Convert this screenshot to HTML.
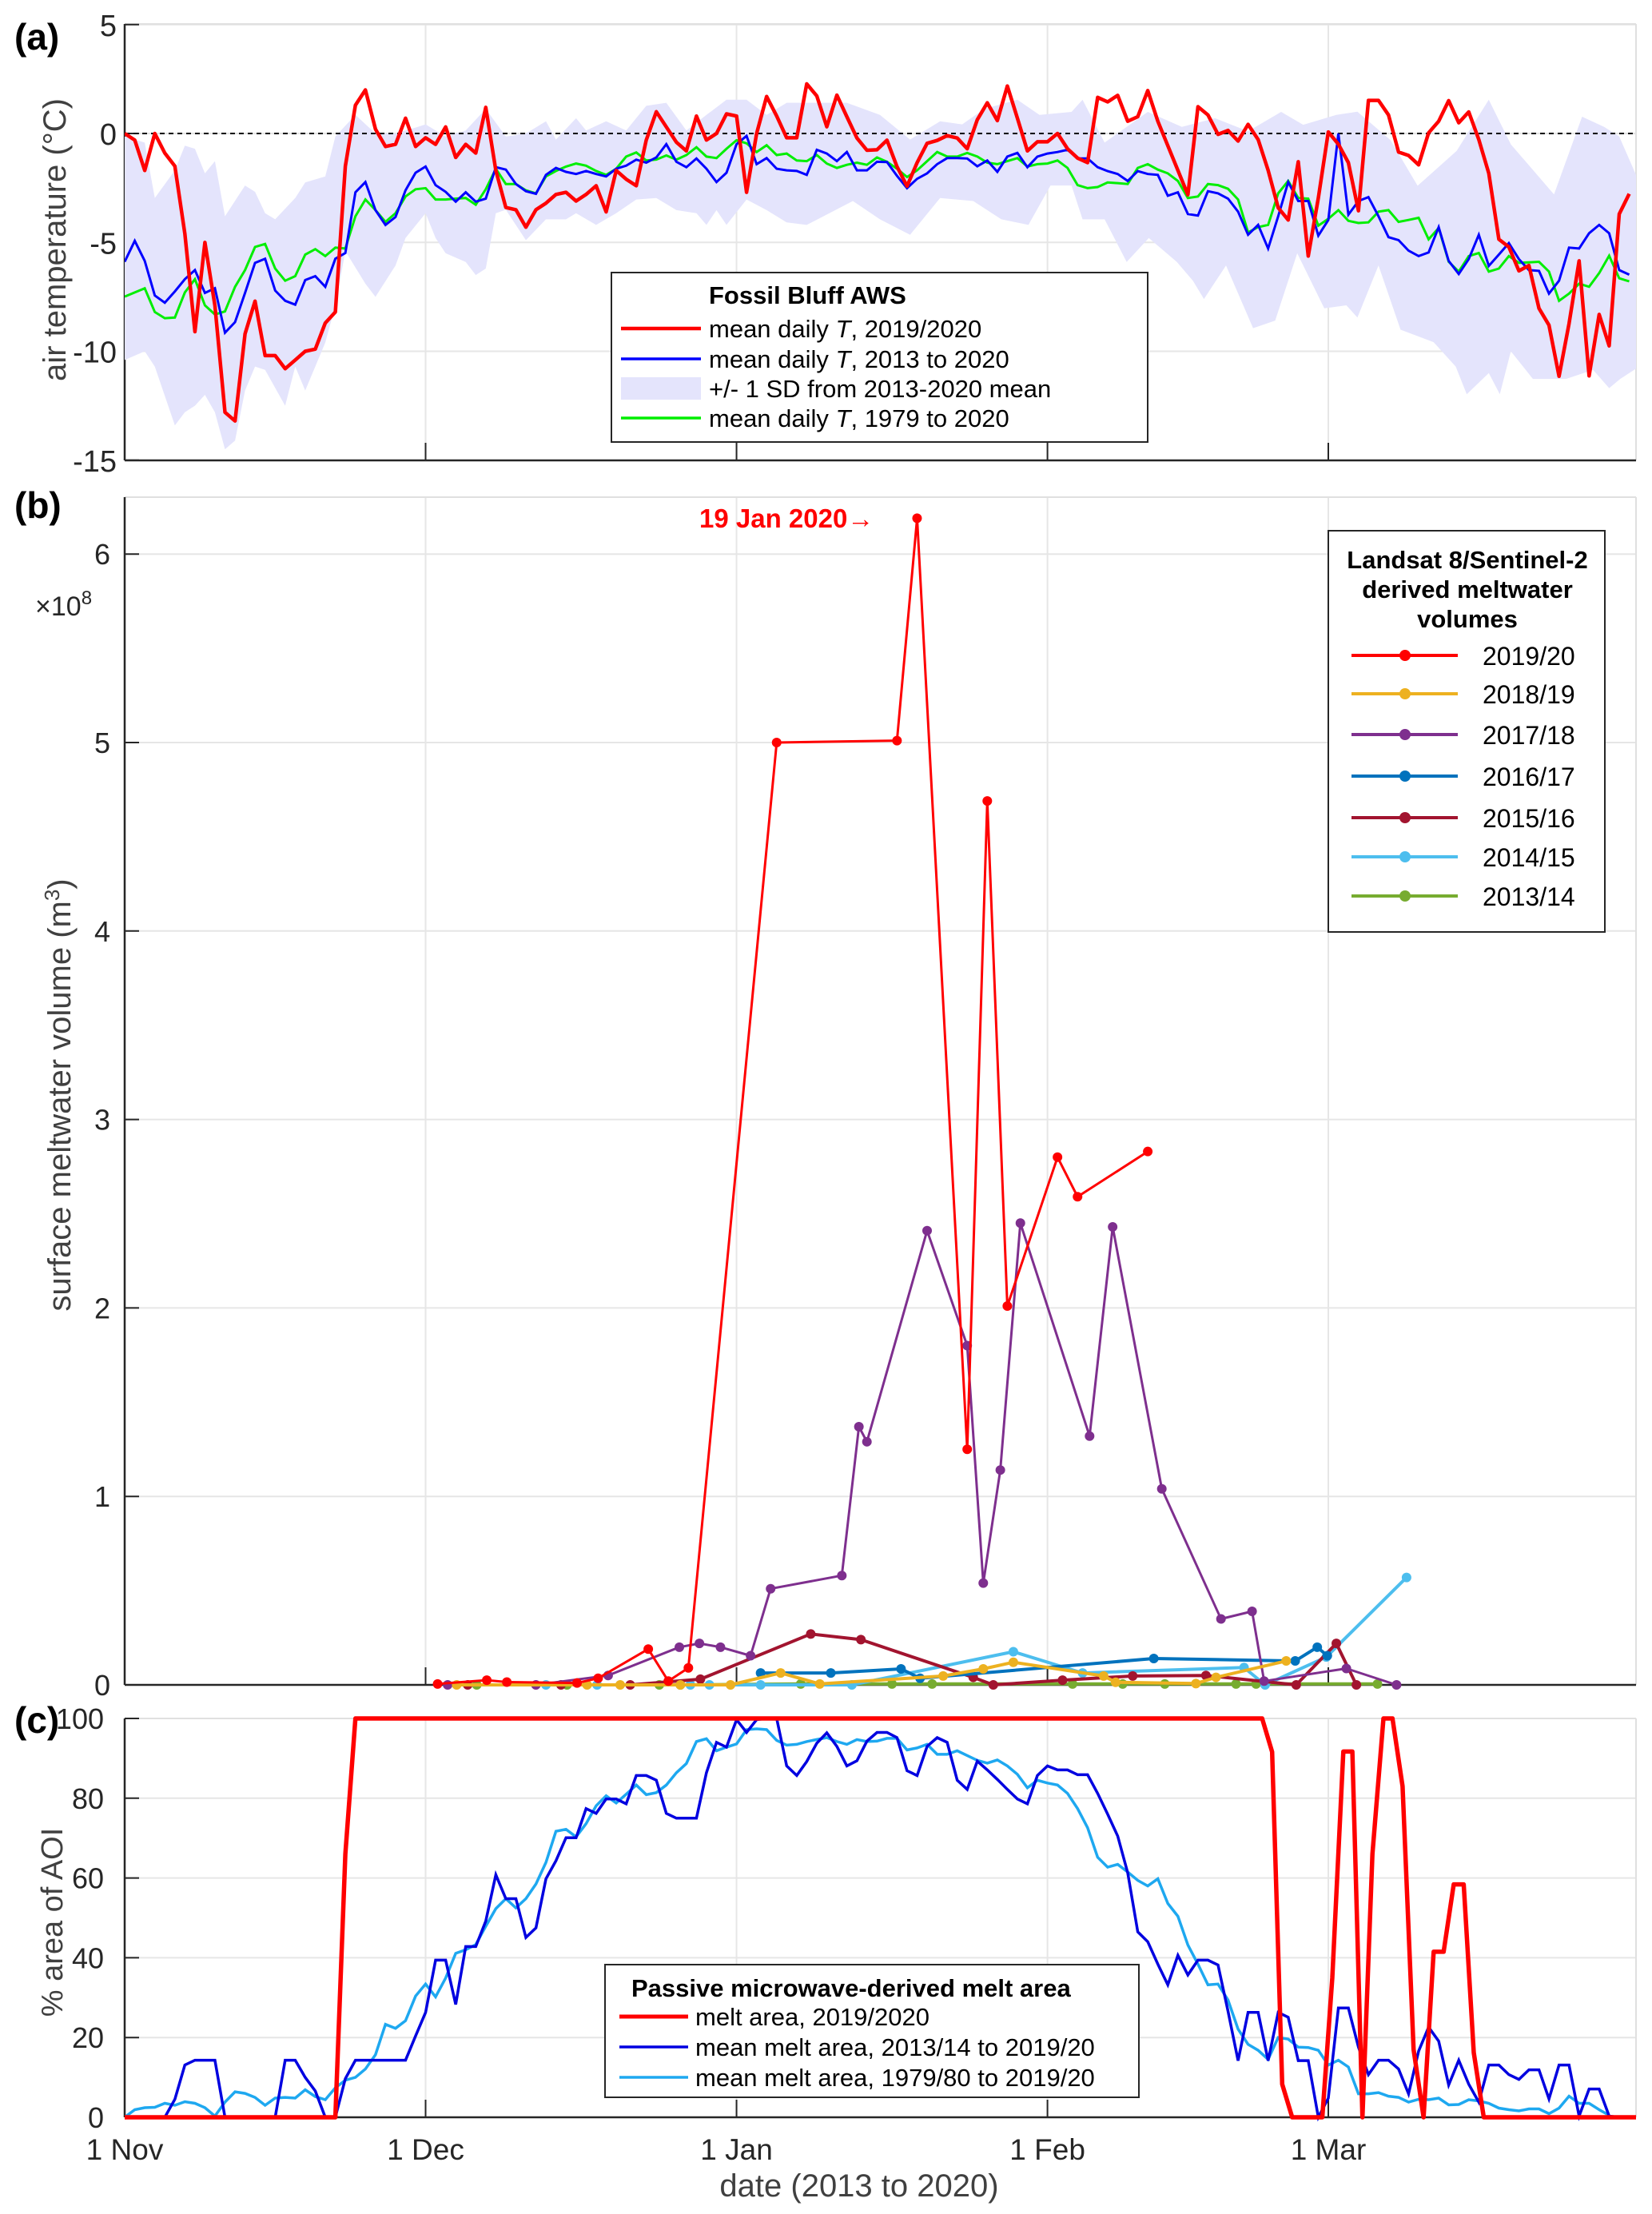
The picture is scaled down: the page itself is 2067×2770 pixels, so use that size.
<!DOCTYPE html>
<html><head><meta charset="utf-8">
<style>
html,body{margin:0;padding:0;background:#fff;}
svg{display:block;font-family:"Liberation Sans",Arial,sans-serif;}
</style></head>
<body>
<svg id="fig" width="2067" height="2770" viewBox="0 0 2067 2770" xmlns="http://www.w3.org/2000/svg">
<rect width="2067" height="2770" fill="#fff"/>
<defs>
<clipPath id="clipA"><rect x="156" y="30" width="1891" height="546"/></clipPath>
<clipPath id="clipB"><rect x="156" y="600" width="1891" height="1520"/></clipPath>
<clipPath id="clipC"><rect x="156" y="2140" width="1891" height="515"/></clipPath>
</defs>
<g id="gridA"></g>
<g id="gridB"></g>
<g id="gridC"></g>
<g id="axes"></g>
<g id="plotA" clip-path="url(#clipA)"></g>
<g id="plotB" clip-path="url(#clipB)"></g>
<g id="plotC" clip-path="url(#clipC)"></g>

<!-- panel labels -->
<text x="18" y="62" font-size="46" font-weight="bold" fill="#000">(a)</text>
<text x="18" y="648" font-size="46" font-weight="bold" fill="#000">(b)</text>
<text x="18" y="2168" font-size="46" font-weight="bold" fill="#000">(c)</text>

<text transform="translate(82,300) rotate(-90)" text-anchor="middle" font-size="40" fill="#404040">air temperature (°C)</text>
<text transform="translate(88,1370) rotate(-90)" text-anchor="middle" font-size="40" fill="#404040">surface meltwater volume (m<tspan font-size="26" dy="-14">3</tspan><tspan dy="14">)</tspan></text>
<text x="44" y="770" font-size="34" fill="#262626">×10<tspan font-size="24" dy="-14">8</tspan></text>
<text transform="translate(78,2405) rotate(-90)" text-anchor="middle" font-size="38" fill="#404040">% area of AOI</text>
<text x="1075" y="2748" text-anchor="middle" font-size="40" fill="#404040">date (2013 to 2020)</text>

<text x="875" y="660" font-size="33" font-weight="bold" fill="#ff0000">19 Jan 2020→</text>

<!-- legend a -->
<g>
<rect x="765" y="341" width="671" height="212" fill="#fff" stroke="#262626" stroke-width="2"/>
<text x="887" y="380" font-size="31" font-weight="bold" fill="#000">Fossil Bluff AWS</text>
<line x1="777" y1="411" x2="877" y2="411" stroke="#ff0000" stroke-width="4.5"/>
<text x="887" y="422" font-size="31" fill="#000">mean daily <tspan font-style="italic">T</tspan>, 2019/2020</text>
<line x1="777" y1="449" x2="877" y2="449" stroke="#0000ff" stroke-width="3.5"/>
<text x="887" y="460" font-size="31" fill="#000">mean daily <tspan font-style="italic">T</tspan>, 2013 to 2020</text>
<rect x="777" y="472" width="100" height="28" fill="#e4e4fc"/>
<text x="887" y="497" font-size="31" fill="#000">+/- 1 SD from 2013-2020 mean</text>
<line x1="777" y1="523" x2="877" y2="523" stroke="#00ee00" stroke-width="3.5"/>
<text x="887" y="534" font-size="31" fill="#000">mean daily <tspan font-style="italic">T</tspan>, 1979 to 2020</text>
</g>

<!-- legend b -->
<g id="legB">
<rect x="1662" y="664" width="346" height="502" fill="#fff" stroke="#262626" stroke-width="2"/>
<text x="1836" y="711" text-anchor="middle" font-size="31" font-weight="bold" fill="#000">Landsat 8/Sentinel-2</text>
<text x="1836" y="748" text-anchor="middle" font-size="31" font-weight="bold" fill="#000">derived meltwater</text>
<text x="1836" y="785" text-anchor="middle" font-size="31" font-weight="bold" fill="#000">volumes</text>
</g>

<!-- legend c -->
<g>
<rect x="757" y="2458" width="668" height="166" fill="#fff" stroke="#262626" stroke-width="2"/>
<text x="790" y="2498" font-size="31" font-weight="bold" fill="#000">Passive microwave-derived melt area</text>
<line x1="775" y1="2523" x2="861" y2="2523" stroke="#ff0000" stroke-width="5"/>
<text x="870" y="2534" font-size="31" fill="#000">melt area, 2019/2020</text>
<line x1="775" y1="2561" x2="861" y2="2561" stroke="#0000e0" stroke-width="3.5"/>
<text x="870" y="2572" font-size="31" fill="#000">mean melt area, 2013/14 to 2019/20</text>
<line x1="775" y1="2599" x2="861" y2="2599" stroke="#1ea8f0" stroke-width="3.5"/>
<text x="870" y="2610" font-size="31" fill="#000">mean melt area, 1979/80 to 2019/20</text>
</g>
</svg>

<script>
// ---------- Panel (a) data: daily mean air temperature (°C), index = days since 1 Nov ----------
const tempRed2019 = [0,-0.3,-1.7,0,-0.9,-1.5,-4.6,-9.1,-5,-7.9,-12.8,-13.2,-9.2,-7.7,-10.2,-10.2,-10.8,-10.4,-10,-9.9,-8.7,-8.2,-1.5,1.3,2,0.2,-0.6,-0.5,0.7,-0.6,-0.2,-0.5,0.3,-1.1,-0.5,-0.9,1.2,-1.7,-3.4,-3.5,-4.3,-3.5,-3.2,-2.8,-2.7,-3.1,-2.8,-2.4,-3.6,-1.7,-2.1,-2.4,-0.3,1,0.3,-0.4,-0.8,0.8,-0.3,0,0.9,0.8,-2.7,0,1.7,0.8,-0.2,-0.2,
2.28,1.72,0.31,1.76,0.77,-0.21,-0.77,-0.75,-0.31,-1.52,-2.42,-1.34,-0.45,-0.32,-0.1,-0.21,-0.7,0.63,1.41,0.59,2.18,0.7,-0.8,-0.38,-0.38,0,-0.7,-1.13,-1.34,1.66,1.45,1.75,0.56,0.77,1.97,0.56,-0.56,-1.69,-2.82,1.23,0.85,-0.04,0.14,-0.35,0.42,-0.28,-1.69,-3.41,-3.97,-1.3,-5.63,-2.96,0.07,-0.49,-1.34,-3.55,1.52,1.52,0.85,-0.85,-1.01,-1.44,0.03,0.56,1.51,0.49,0.99,-0.28,-1.83,-4.86,-5.21,-6.31,-6.06,-8.03,-8.8,-11.15,-8.73,-5.85,-11.13,-8.31,-9.75,-3.7,-2.77];
const tempBlue2013 = [-5.89,-4.93,-5.85,-7.44,-7.77,-7.25,-6.69,-6.27,-7.32,-7.11,-9.15,-8.66,-7.32,-5.94,-5.75,-7.21,-7.68,-7.86,-6.73,-6.55,-7.04,-5.75,-5.49,-2.7,-2.23,-3.52,-4.2,-3.83,-2.61,-1.8,-1.52,-2.37,-2.68,-3.13,-2.7,-3.13,-2.99,-1.55,-1.66,-2.32,-2.65,-2.77,-1.9,-1.58,-1.76,-1.86,-1.72,-1.86,-1.97,-1.62,-1.48,-1.2,-1.34,-1.1,-0.49,-1.3,-1.55,-1.15,-1.62,-2.23,-1.8,-0.49,-0.11,-1.41,-1.13,-1.62,-1.69,-1.72,
-1.9,-0.75,-0.92,-1.27,-0.85,-1.69,-1.69,-1.3,-1.31,-1.94,-2.51,-2.08,-1.83,-1.41,-1.13,-1.13,-1.15,-1.51,-1.24,-1.76,-1.06,-0.89,-1.55,-1.06,-0.92,-0.85,-0.75,-1.15,-1.15,-1.55,-1.73,-1.86,-2.18,-1.73,-1.86,-1.9,-2.86,-2.7,-3.7,-3.77,-2.65,-2.75,-2.99,-3.59,-4.65,-4.2,-5.28,-3.8,-2.23,-3.1,-3.1,-4.69,-3.97,0,-3.73,-3.1,-2.92,-3.8,-4.76,-4.9,-5.38,-5.63,-5.46,-4.3,-5.85,-6.45,-5.77,-4.65,-6.08,-5.56,-5.03,-5.77,-6.27,-6.31,-7.35,-6.76,-5.24,-5.28,-4.58,-4.2,-4.58,-6.27,-6.48];
const tempGreen1979 = [-7.49,-7.3,-7.11,-8.2,-8.48,-8.45,-7.3,-6.69,-7.89,-8.31,-8.17,-7.04,-6.27,-5.21,-5.07,-6.2,-6.76,-6.55,-5.56,-5.31,-5.63,-5.24,-5.28,-3.8,-3.03,-3.52,-4.06,-3.66,-2.89,-2.56,-2.51,-3.03,-3.03,-2.99,-2.96,-3.27,-2.56,-1.62,-2.32,-2.32,-2.61,-2.75,-1.97,-1.72,-1.52,-1.38,-1.48,-1.72,-1.9,-1.62,-1.06,-0.87,-1.24,-1.2,-1.01,-1.2,-0.99,-0.63,-1.06,-1.13,-0.7,-0.31,-0.45,-0.85,-0.54,-0.99,-0.92,-1.24,
-1.27,-0.99,-1.38,-1.58,-1.44,-1.34,-1.44,-1.1,-1.3,-1.62,-2,-1.69,-1.27,-0.85,-1.06,-1.06,-0.89,-1.06,-1.34,-1.41,-1.27,-1.13,-1.52,-1.41,-1.38,-1.24,-1.58,-2.37,-2.51,-2.46,-2.25,-2.28,-2.32,-1.58,-1.41,-1.66,-1.83,-2.18,-2.96,-2.89,-2.32,-2.37,-2.54,-3.03,-4.54,-4.3,-4.2,-2.75,-2.18,-2.96,-2.99,-4.23,-3.92,-3.52,-4.01,-4.11,-4.08,-3.59,-3.52,-4.06,-3.97,-3.87,-4.86,-4.34,-5.89,-6.34,-5.63,-5.49,-6.34,-6.2,-5.63,-5.94,-5.92,-5.89,-6.34,-7.68,-7.35,-6.9,-7.04,-6.41,-5.61,-6.65,-6.79];
const sdUpperDays = [0,2,3,5,6,7,8,9,10,12,13,14,15,17,18,20,21,23,25,27,29,30,32,34,36,38,40,42,43,45,46,48,50,52,54,56,58,60,62,64,66,72,75.3,78.3,81.3,83.5,85.7,89,91.2,94.4,95.5,97.7,102,105.4,108.7,112,115.3,117.5,120.8,122.9,126.2,128.9,132.8,136,138.2,142.5,145.3,147.5,149,151];
const sdUpperVals = [-0.14,-0.42,-2.96,-1.69,-0.56,-0.7,-1.83,-1.27,-3.8,-2.39,-2.68,-3.66,-3.94,-2.96,-2.25,-1.97,-0.14,0.85,0,0,0.27,0.42,-0.14,0.14,1.13,-0.14,0,0.56,-0.28,0.7,0.14,0.56,0.14,1.27,1.41,0.14,0.85,1.55,1.55,0.85,1.41,1.41,0.85,-0.28,0.56,0.42,1.13,1.55,0.85,0.99,1.55,-0.42,0.99,0.3,0.7,0.1,0.99,0.4,0.85,1.0,-0.3,-2.4,-0.8,1.55,-0.5,-2.8,0.77,0.3,-0.14,-2.25];
const sdLowerDays = [0,2,3,5,6,7,8,9,10,11,12,13,14,16,17,18,20,21,22,24,25,27,28,30,31,32,34,35,36,37,38,40,42,44,45,47,49,51,53,55,57,58,59,60,62,64,66,68,72.6,75.3,78.3,81.3,84.6,87.4,90.1,92.3,94.4,95.5,97.7,99.9,102.1,104.9,106.5,107.6,109.8,112.5,114.7,116.9,119.6,121.8,122.9,125,127.2,130.5,132.7,133.8,136,137.1,138.2,140.4,143.7,146.4,148,149.1,151];
const sdLowerVals = [-10.4,-10,-10.7,-13.4,-12.8,-12.5,-12,-12.8,-14.5,-14.1,-11.8,-10.7,-10.85,-12.5,-10.7,-11.8,-9.6,-7.9,-5.4,-6.9,-7.5,-6.06,-4.8,-3.66,-4.8,-5.5,-5.9,-6.5,-6.2,-3.66,-3.5,-4.9,-3.94,-3.94,-3.66,-4.2,-3.66,-3.03,-2.96,-3.52,-3.66,-4.2,-3.52,-4.2,-3.03,-3.52,-4.08,-4.2,-3.1,-3.94,-4.65,-2.96,-3.1,-3.94,-4.2,-2.39,-2.39,-3.94,-3.94,-5.9,-4.8,-5.9,-6.76,-7.6,-6.06,-8.94,-8.59,-5.5,-8.03,-7.89,-8.45,-6.06,-9.01,-9.58,-10.7,-11.97,-11,-11.97,-10,-11.27,-11.27,-10.85,-11.69,-11.27,-10.7];
const tempTicks = [5,0,-5,-10,-15];

// ---------- Panel (b) data: meltwater volume (×1e8 m³) ----------
const volLabels = ["2019/20","2018/19","2017/18","2016/17","2015/16","2014/15","2013/14"];
const volDays2019 = [31.2,36.1,38.1,45.1,47.2,52.2,54.2,56.2,65,77,79,84,86,88,93,95,102];
const volVals2019 = [0.005,0.025,0.015,0.01,0.035,0.19,0.02,0.09,5.0,5.01,6.19,1.25,4.69,2.01,2.8,2.59,2.83];
const volDays2018 = [33.1,46.1,49.4,55.4,60.4,65.4,69.3,81.6,85.6,88.6,97.6,98.8,106.8,108.8,115.8];
const volVals2018 = [0,0,0,0,0,0.063,0.005,0.047,0.085,0.12,0.047,0.014,0.007,0.04,0.127];
const volDays2017 = [32.2,41,48.2,55.3,57.3,59.4,62.4,64.4,71.5,73.2,74,80,84,85.6,87.3,89.3,96.2,98.5,103.4,109.3,112.4,113.6,121.8,126.8];
const volVals2017 = [0,0,0.05,0.2,0.22,0.2,0.155,0.51,0.58,1.37,1.29,2.41,1.8,0.54,1.14,2.45,1.32,2.43,1.04,0.35,0.39,0.02,0.087,0];
const volDays2016 = [63.4,70.4,77.4,79.3,102.6,116.7,118.9,119.9];
const volVals2016 = [0.063,0.063,0.085,0.035,0.14,0.127,0.2,0.155];
const volDays2015 = [34.2,43.5,50.4,57.4,68.4,73.4,84.6,86.6,93.5,100.5,107.8,116.8,120.8,122.8];
const volVals2015 = [0,0,0,0.03,0.27,0.24,0.04,0,0.025,0.047,0.05,0,0.22,0];
const volDays2014 = [42,47.1,56.4,58.3,63.4,72.5,88.6,95.5,111.6,113.7,119.8,127.8];
const volVals2014 = [0,0,0,0,0,0,0.176,0.063,0.092,0,0.148,0.57];
const volDays2013 = [35.1,44.1,53.3,55.4,67.4,76.5,80.5,94.5,99.5,103.7,110.8,112.8,124.9];
const volVals2013 = [0,0,0,0,0.005,0.005,0.005,0.005,0.005,0.005,0.005,0.005,0.005];
const volTicks = [0,1,2,3,4,5,6];

// ---------- Panel (c) data: % melt area ----------
const meltRedDays = [0,21,22,23,113.4,114.4,115.4,116.4,119.4,120.4,121.5,122.4,123.4,124.4,125.5,126.4,127.4,128.5,129.5,130.5,131.5,132.5,133.5,134.5,135.5,150.7];
const meltRedVals = [0,0,66,100,100,91.6,8.3,0,0,35,91.7,91.7,0,66,100,100,83,17,0,41.5,41.5,58.4,58.4,16.2,0,0];
const meltBlue = [0,0,0,0,0,4.5,13.1,14.3,14.3,14.3,0,0,0,0,0,0,14.3,14.3,10,6.6,0,0,9.7,14.3,14.3,14.3,14.3,14.3,14.3,20.4,26.3,39.4,39.4,28.3,42.8,42.8,49.2,60.8,54.8,54.8,45.1,47.5,59.8,64.3,70.1,70.1,77.4,76.2,79.8,79.8,78.6,85.7,85.7,84.5,76.2,75,75,75,86.4,94,92.8,99.7,96.5,99.7,100,100,88.1,85.7,89.2,93.8,96.4,93,88.1,89.4,
94.3,96.5,96.5,95.2,86.9,85.7,93,95.2,94,84.5,82.2,89.3,87.1,84.7,82.2,79.8,78.6,85.7,88.1,87.1,87.1,85.9,85.9,81.2,76,70.5,61.3,46.5,44,38.4,33.2,40.6,35.7,39.4,39.4,38.2,26.6,14.2,26.3,26.3,14.2,26.3,25.1,14.2,14.2,0,4.8,27.4,27.4,17.6,10.7,14.3,14.3,12.1,5.9,16.6,22.6,19.1,8.1,14.3,8.3,3.8,13.1,13.1,10.7,9.5,11.9,11.9,4.6,13.1,13.1,0.3,7.1,7.1,0.3,0,0];
const meltCyan = [0,1.9,2.4,2.5,3.5,3,3.9,3.5,2.4,0.3,3.8,6.4,6,5,3,4.8,5,4.8,6.9,5.2,4.4,7.4,9.3,10,12.1,15.7,23.3,22.3,24.2,30.4,33.4,30.2,34.9,41.1,42,43.3,47.9,52.3,54.8,52.5,54.8,58.5,63.9,71.7,72.2,70.3,73.6,78.1,80.6,78.8,81,83.3,80.9,81.4,83.3,86.4,88.7,94.2,94.9,91.9,92.8,93.6,97.2,97.4,97.2,94.5,93.3,93.5,94.2,94.7,95.2,94.2,93.5,94.7,
94.2,94.3,95,95,92.1,92.6,93.5,91,91,91.9,90.7,89.5,88.8,89.6,88.1,86,82.6,84.5,83.8,83.3,81.2,77.4,72.6,65.2,62.7,63.4,61.5,59.4,58,59.8,53.6,50.4,43.2,38.4,33.2,33.4,29.4,22.1,18.3,16.8,14.5,20,19.6,17.6,17.5,16.8,13.1,14.3,12.6,5.9,5.9,6.2,5.3,5,3.8,4.5,4.4,4.8,3.1,3.2,4.4,4.1,3.5,2.3,1.9,1.6,2.1,2.1,0.9,2.3,5.3,3.5,3.5,1.9,0.5];
const meltTicks = [0,20,40,60,80,100];

const dateTickDays = [0,30,61,92,120];
const dateTickLabels = ["1 Nov","1 Dec","1 Jan","1 Feb","1 Mar"];

// ---------- axes functions ----------
const X0 = 156, X1 = 2047, PXD = 12.55;
function xS(d){ return X0 + d*PXD; }
function yA(t){ return 167 - t*27.25; }
function yB(v){ return 2108 - v*235.8; }
function yC(p){ return 2649 - p*4.99; }

const NS = "http://www.w3.org/2000/svg";
function mk(tag, attrs, parent){
  const e = document.createElementNS(NS, tag);
  for (const k in attrs) e.setAttribute(k, attrs[k]);
  parent.appendChild(e);
  return e;
}
function pts(days, vals, yf){ return days.map((d,i)=>xS(d).toFixed(1)+","+yf(vals[i]).toFixed(1)).join(" "); }
function idx(arr){ return arr.map((_,i)=>i); }

const gA = document.getElementById('gridA'), gB = document.getElementById('gridB'), gC = document.getElementById('gridC');
const pA = document.getElementById('plotA'), pB = document.getElementById('plotB'), pC = document.getElementById('plotC');
const ax = document.getElementById('axes');

// grids
[[gA,30,576],[gB,622,2108],[gC,2150,2649]].forEach(([g,t,b])=>{
  dateTickDays.forEach(d=>{
    if(d===0) return;
    const l = mk('line',{x1:xS(d),x2:xS(d),y1:t,y2:b,stroke:'#e6e6e6','stroke-width':2},g);
    
    
  });
});
tempTicks.forEach(t=>{
  const l = mk('line',{x1:X0,x2:X1,y1:yA(t),y2:yA(t),stroke:'#e6e6e6','stroke-width':2},gA);
  
  
});
volTicks.forEach(v=>{
  const l = mk('line',{x1:X0,x2:X1,y1:yB(v),y2:yB(v),stroke:'#e6e6e6','stroke-width':2},gB);
  
  
});
meltTicks.forEach(p=>{
  const l = mk('line',{x1:X0,x2:X1,y1:yC(p),y2:yC(p),stroke:'#e6e6e6','stroke-width':2},gC);
  
  
});

// panel a
const band = mk('polygon',{points: pts(sdUpperDays,sdUpperVals,yA)+" "+pts(sdLowerDays.slice().reverse(),sdLowerVals.slice().reverse(),yA), fill:'#e4e4fc'},pA);


const zl = mk('line',{x1:X0,x2:X1,y1:yA(0),y2:yA(0),stroke:'#000','stroke-width':2,'stroke-dasharray':'6,5'},pA);


const lg = mk('polyline',{points:pts(idx(tempGreen1979),tempGreen1979,yA),fill:'none',stroke:'#00ee00','stroke-width':3},pA);


const lb = mk('polyline',{points:pts(idx(tempBlue2013),tempBlue2013,yA),fill:'none',stroke:'#0000ff','stroke-width':3},pA);


const lr = mk('polyline',{points:pts(idx(tempRed2019),tempRed2019,yA),fill:'none',stroke:'#ff0000','stroke-width':4.5,'stroke-linejoin':'round'},pA);



// panel b
const volColors = ["#ff0000","#EDB120","#7E2F8E","#0072BD","#A2142F","#4DBEEE","#77AC30"];
const volDays = [volDays2019,volDays2018,volDays2017,volDays2016,volDays2015,volDays2014,volDays2013];
const volVals = [volVals2019,volVals2018,volVals2017,volVals2016,volVals2015,volVals2014,volVals2013];
for (let s = volDays.length-1; s>=0; s--){
  const g = mk('g',{},pB);
  
  
  const w = (s===0||s===2)?3:4;
  mk('polyline',{points:pts(volDays[s],volVals[s],yB),fill:'none',stroke:volColors[s],'stroke-width':w,'stroke-linejoin':'round'},g);
  volDays[s].forEach((d,i)=>{
    const c = mk('circle',{cx:xS(d),cy:yB(volVals[s][i]),r:6,fill:volColors[s]},g);
    
    
  });
}
// legend b entries
const legB = document.getElementById('legB');
const legY = [820,868,919,971,1023,1072,1121];
volLabels.forEach((lab,i)=>{
  const g = mk('g',{},legB);
  
  
  mk('line',{x1:1691,x2:1824,y1:legY[i],y2:legY[i],stroke:volColors[i],'stroke-width':4},g);
  mk('circle',{cx:1758,cy:legY[i],r:7,fill:volColors[i]},g);
  const t = mk('text',{x:1855,y:legY[i]+12,'font-size':32,fill:'#000'},g);
  t.textContent = lab;
});

// panel c
const lcC = mk('polyline',{points:pts(idx(meltCyan),meltCyan,yC),fill:'none',stroke:'#1ea8f0','stroke-width':3.5},pC);


const lbC = mk('polyline',{points:pts(idx(meltBlue),meltBlue,yC),fill:'none',stroke:'#0000e0','stroke-width':3.5},pC);


const lrC = mk('polyline',{points:pts(meltRedDays,meltRedVals,yC),fill:'none',stroke:'#ff0000','stroke-width':5.5,'stroke-linejoin':'round'},pC);



// axes lines and ticks
function axisFrame(top,bottom,name){
  const g = mk('g',{},ax);
  
  
  mk('line',{x1:X0,x2:X1,y1:top,y2:top,stroke:'#e0e0e0','stroke-width':2},g);
  mk('line',{x1:X1,x2:X1,y1:top,y2:bottom,stroke:'#e0e0e0','stroke-width':2},g);
  mk('line',{x1:X0,x2:X1,y1:bottom,y2:bottom,stroke:'#262626','stroke-width':2.5},g);
  mk('line',{x1:X0,x2:X0,y1:top,y2:bottom,stroke:'#262626','stroke-width':2.5},g);
  dateTickDays.forEach(d=>{ mk('line',{x1:xS(d),x2:xS(d),y1:bottom,y2:bottom-22,stroke:'#262626','stroke-width':2},g); });
  return g;
}
const fa = axisFrame(30,576,'panel-a-axes');
tempTicks.forEach(t=>{
  mk('line',{x1:X0,x2:X0+18,y1:yA(t),y2:yA(t),stroke:'#262626','stroke-width':2},fa);
  const tx = mk('text',{x:146,y:yA(t)+14,'text-anchor':'end','font-size':38,fill:'#262626'},fa);
  tx.textContent = t;
});
const fb = axisFrame(622,2108,'panel-b-axes');
volTicks.forEach(v=>{
  mk('line',{x1:X0,x2:X0+18,y1:yB(v),y2:yB(v),stroke:'#262626','stroke-width':2},fb);
  const tx = mk('text',{x:138,y:yB(v)+13,'text-anchor':'end','font-size':36,fill:'#262626'},fb);
  tx.textContent = v;
});
const fc = axisFrame(2150,2649,'panel-c-axes');
meltTicks.forEach(p=>{
  mk('line',{x1:X0,x2:X0+18,y1:yC(p),y2:yC(p),stroke:'#262626','stroke-width':2},fc);
  const tx = mk('text',{x:130,y:yC(p)+13,'text-anchor':'end','font-size':36,fill:'#262626'},fc);
  tx.textContent = p;
});
dateTickDays.forEach((d,i)=>{
  const tx = mk('text',{x:xS(d),y:2702,'text-anchor':'middle','font-size':37,fill:'#262626'},ax);
  
  
  tx.textContent = dateTickLabels[i];
});
</script>
</body></html>
